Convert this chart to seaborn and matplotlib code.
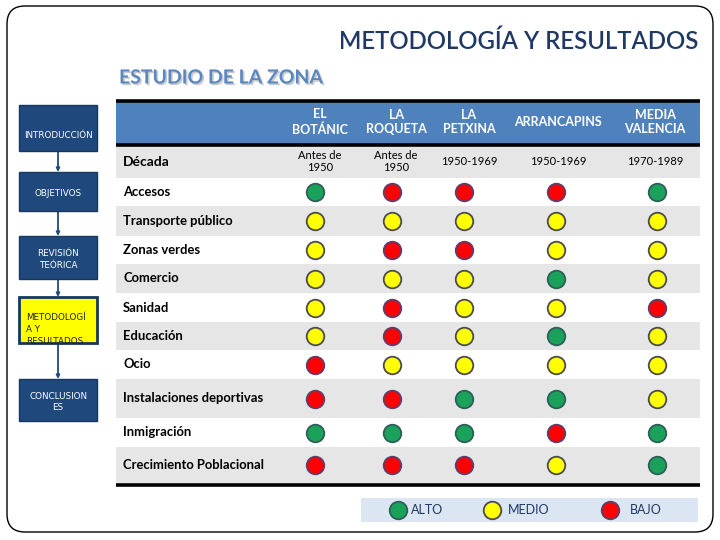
import matplotlib
matplotlib.use("Agg")
import matplotlib.pyplot as plt
import matplotlib.patches as mpatches
import matplotlib.patheffects as pe
import seaborn as sns
import pandas as pd

sns.set_theme(style="white")
plt.rcParams['font.family'] = ['Lato', 'DejaVu Sans']

# ---------------- data ----------------
zones = ["EL\nBOTÁNIC", "LA\nROQUETA", "LA\nPETXINA", "ARRANCAPINS", "MEDIA\nVALENCIA"]
decades = ["Antes de\n1950", "Antes de\n1950", "1950-1969", "1950-1969", "1970-1989"]
indicators = ["Accesos", "Transporte público", "Zonas verdes", "Comercio", "Sanidad",
              "Educación", "Ocio", "Instalaciones deportivas", "Inmigración",
              "Crecimiento Poblacional"]
botanic = ["ALTO", "MEDIO", "MEDIO", "MEDIO", "MEDIO", "MEDIO", "BAJO", "BAJO", "ALTO", "BAJO"]
roqueta = ["BAJO", "MEDIO", "BAJO", "MEDIO", "BAJO", "BAJO", "MEDIO", "BAJO", "ALTO", "BAJO"]
petxina = ["BAJO", "MEDIO", "BAJO", "MEDIO", "MEDIO", "MEDIO", "MEDIO", "ALTO", "ALTO", "BAJO"]
arrancapins = ["BAJO", "MEDIO", "MEDIO", "ALTO", "MEDIO", "ALTO", "MEDIO", "ALTO", "BAJO", "MEDIO"]
media_valencia = ["ALTO", "MEDIO", "MEDIO", "MEDIO", "BAJO", "MEDIO", "MEDIO", "MEDIO", "ALTO", "ALTO"]
levels = ["ALTO", "MEDIO", "BAJO"]
sidebar = ["INTRODUCCIÓN", "OBJETIVOS", "REVISIÓN\nTEÓRICA", "METODOLOGÍ\nA Y\nRESULTADOS",
           "CONCLUSION\nES"]
title = "METODOLOGÍA Y RESULTADOS"
subtitle = "ESTUDIO DE LA ZONA"

# ---------------- styles / layout ----------------
fill = {"ALTO": "#1BA25A", "MEDIO": "#FFFF00", "BAJO": "#FF0000"}
edge = {"ALTO": "#2E5E5C", "MEDIO": "#4B4B4B", "BAJO": "#5B3F6E"}
navy = "#1F3864"
header_blue = "#4F81BD"
band_gray = "#E6E6E6"

col_x = [315, 392, 464, 556, 657]
head_x = [320, 396, 469, 558, 655]
row_edges = [145, 178, 206, 236, 264, 293, 322, 350, 379, 418, 447, 483]
tab_x0, tab_x1 = 116, 700

fig = plt.figure(figsize=(7.2, 5.4), dpi=100)
ax = fig.add_axes([0, 0, 1, 1])
ax.set_xlim(0, 720)
ax.set_ylim(540, 0)
ax.axis("off")

# slide border
ax.add_patch(mpatches.FancyBboxPatch((7, 6), 706, 526,
                                     boxstyle="round,pad=0,rounding_size=18",
                                     fc="white", ec="black", lw=1.0, zorder=0))

# titles
ax.text(698, 41, title, ha="right", va="center", fontsize=17.2, color=navy,
        fontweight="semibold")
ax.text(119, 78, subtitle, ha="left", va="center", fontsize=14, color="#5B87C0",
        fontweight="bold",
        path_effects=[pe.withSimplePatchShadow(offset=(1.2, -1.2), shadow_rgbFace="#999999", alpha=0.5)])

# ---------------- sidebar ----------------
boxes = [(105, 151), (172, 211), (236, 279), (297, 343), (379, 421)]
for i, (label, (y0, y1)) in enumerate(zip(sidebar, boxes)):
    current = i == 3
    rect = mpatches.Rectangle((19, y0), 78, y1 - y0,
                              fc="#FFFF00" if current else "#1F497D",
                              ec="#17375E", lw=2.0 if current else 1.0, zorder=2)
    ax.add_patch(rect)
    if current:
        t = ax.text(26, 313, label, ha="left", va="top", fontsize=6.3, color="#222222",
                    family="DejaVu Sans", linespacing=1.4, zorder=3)
        t.set_clip_path(rect)
    elif i == 0:
        ax.text(58, 136, label, ha="center", va="center", fontsize=6.3, color="white",
                family="DejaVu Sans", zorder=3)
    else:
        ax.text(58, (y0 + y1) / 2 + 2, label, ha="center", va="center", fontsize=6.3,
                color="white", family="DejaVu Sans", linespacing=1.3, zorder=3)
    if i < len(boxes) - 1:
        ax.annotate("", xy=(58, boxes[i + 1][0]), xytext=(58, y1),
                    arrowprops=dict(arrowstyle="-|>", color="#1F497D", lw=1.3,
                                    mutation_scale=5, shrinkA=0, shrinkB=0), zorder=1)

# ---------------- table ----------------
ax.add_patch(mpatches.Rectangle((tab_x0, 100), tab_x1 - tab_x0, 45, fc=header_blue, ec="none", zorder=1))
for k in range(len(row_edges) - 1):
    if k % 2 == 0:
        ax.add_patch(mpatches.Rectangle((tab_x0, row_edges[k]), tab_x1 - tab_x0,
                                        row_edges[k + 1] - row_edges[k],
                                        fc=band_gray, ec="none", zorder=1))
for yy in (101, 145, 485):
    ax.plot([tab_x0, tab_x1], [yy, yy], color="black", lw=2.6, solid_capstyle="butt", zorder=2)

for x, z in zip(head_x, zones):
    ax.text(x, 122, z, ha="center", va="center", fontsize=9, color="white",
            fontweight="bold", linespacing=1.25, zorder=3)

row_c = [(row_edges[k] + row_edges[k + 1]) / 2 for k in range(len(row_edges) - 1)]
ax.text(123, row_c[0], "Década", ha="left", va="center", fontsize=10, fontweight="bold",
        color="black", zorder=3)
for x, d in zip(head_x, decades):
    ax.text(x, row_c[0], d, ha="center", va="center", fontsize=8, color="black",
            linespacing=1.1, zorder=3)
for yc, lab in zip(row_c[1:], indicators):
    ax.text(123, yc, lab, ha="left", va="center", fontsize=9.4, fontweight="bold",
            color="black", zorder=3)

# dots
cols = [botanic, roqueta, petxina, arrancapins, media_valencia]
recs = []
for ci, colvals in enumerate(cols):
    for ri, lvl in enumerate(colvals):
        recs.append({"x": col_x[ci], "y": row_c[ri + 1], "nivel": lvl})
df = pd.DataFrame(recs)
for lvl in levels:
    sub = df[df["nivel"] == lvl]
    sns.scatterplot(data=sub, x="x", y="y", ax=ax, s=160, color=fill[lvl],
                    edgecolor=edge[lvl], linewidth=1.3, zorder=4, legend=False)

# legend
ax.add_patch(mpatches.Rectangle((361, 498), 337, 24, fc="#DCE6F2", ec="none", zorder=1))
leg_dot_x = [398, 492, 610]
leg_txt_x = [411, 508, 630]
leg_df = pd.DataFrame({"x": leg_dot_x, "y": [510] * 3, "nivel": levels})
for lvl in levels:
    sub = leg_df[leg_df["nivel"] == lvl]
    sns.scatterplot(data=sub, x="x", y="y", ax=ax, s=160, color=fill[lvl],
                    edgecolor=edge[lvl], linewidth=1.3, zorder=4, legend=False)
for tx, lvl in zip(leg_txt_x, levels):
    ax.text(tx, 510, lvl, ha="left", va="center", fontsize=9, color=navy, zorder=4)

ax.set_xlim(0, 720)
ax.set_ylim(540, 0)
ax.set_xlabel("")
ax.set_ylabel("")
fig.savefig("out.png", dpi=100)
